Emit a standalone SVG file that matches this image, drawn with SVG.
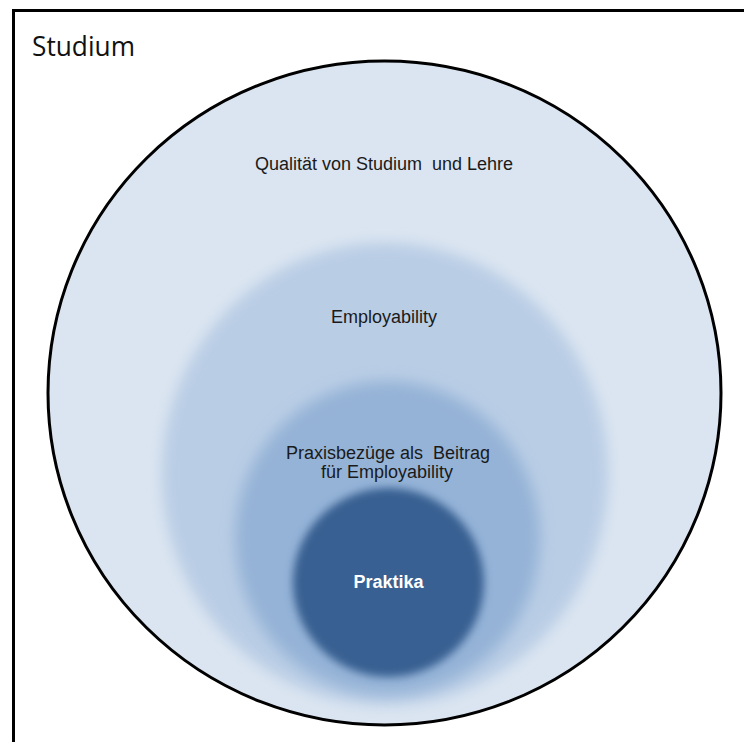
<svg xmlns="http://www.w3.org/2000/svg" width="744" height="742" viewBox="0 0 744 742">
  <style>
    .lbl { font-family: "Liberation Sans", Arial, sans-serif; font-size: 18px; fill: #1a1a1a; text-anchor: middle; white-space: pre; }
    .bold { font-weight: bold; fill: #ffffff; }
    .title { font-family: "Open Sans", "Liberation Sans", sans-serif; font-size: 27px; fill: #111111; }
  </style>
  <defs>
    <filter id="soft" x="-20%" y="-20%" width="140%" height="140%">
      <feGaussianBlur stdDeviation="7"/>
    </filter>
    <filter id="soft2" x="-20%" y="-20%" width="140%" height="140%">
      <feGaussianBlur stdDeviation="4"/>
    </filter>
    <clipPath id="outerClip">
      <ellipse cx="384.5" cy="393" rx="336" ry="331.5"/>
    </clipPath>
  </defs>
  <rect x="0" y="0" width="744" height="742" fill="#ffffff"/>
  <g id="frame">
    <rect x="13.5" y="10.5" width="780" height="780" fill="none" stroke="#000000" stroke-width="3"/>
    <text class="title" x="32" y="56" textLength="103" lengthAdjust="spacingAndGlyphs">Studium</text>
  </g>
  <g id="studium-qualitaet">
    <ellipse cx="384.5" cy="393" rx="336.5" ry="332" fill="#dbe5f1" stroke="#000000" stroke-width="3"/>
    <text class="lbl" x="384" y="170">Qualität von Studium  und Lehre</text>
  </g>
  <g id="employability" clip-path="url(#outerClip)">
    <ellipse cx="385" cy="474" rx="223" ry="231" fill="#b9cde5" filter="url(#soft)"/>
    <text class="lbl" x="384" y="323">Employability</text>
  </g>
  <g id="praxisbezuege" clip-path="url(#outerClip)">
    <ellipse cx="387.5" cy="538" rx="152.5" ry="157" fill="#95b3d7" filter="url(#soft)"/>
    <text class="lbl" x="388" y="459">Praxisbezüge als  Beitrag</text>
    <text class="lbl" x="387" y="478">für Employability</text>
  </g>
  <g id="praktika">
    <ellipse cx="388.5" cy="582.5" rx="95.5" ry="94.5" fill="#376092" filter="url(#soft2)"/>
    <text class="lbl bold" x="388.5" y="588">Praktika</text>
  </g>
  <g id="connectors"/>
</svg>
